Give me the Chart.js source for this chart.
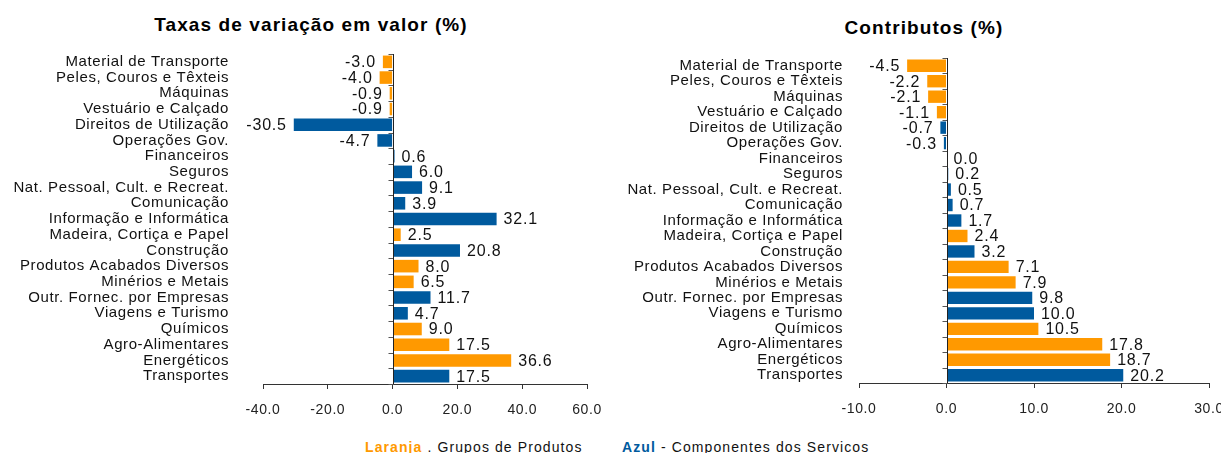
<!DOCTYPE html>
<html>
<head>
<meta charset="utf-8">
<script src="https://cdn.jsdelivr.net/npm/chart.js@4"></script>
<style>
  body { margin: 0; width: 1221px; height: 453px; background: #fff; position: relative; overflow: hidden; font-family: "Liberation Sans", Arial, sans-serif; }
  .box { position: absolute; top: 0; height: 430px; }
  .title { position: absolute; font-weight: bold; font-size: 19px; line-height: 24px; letter-spacing: 1.1px; text-align: center; color: #000; }
  .legend { position: absolute; top: 437px; font-size: 14px; line-height: 20px; letter-spacing: 1.1px; color: #111; white-space: nowrap; }
  .legend b { font-weight: bold; }
</style>
</head>
<body>
<div class="title" style="left:0; width:622px; top:13px;">Taxas de variação em valor (%)</div>
<div class="title" style="left:610px; width:628px; top:16px;">Contributos (%)</div>

<div class="box" style="left:0; width:610px;"><canvas id="taxasChart"></canvas></div>
<div class="box" style="left:610px; width:611px;"><canvas id="contribChart"></canvas></div>

<div class="legend" style="left:365px;"><b style="color:#FF9900">Laranja</b> . Grupos de Produtos</div>
<div class="legend" style="left:622px;"><b style="color:#005A9E">Azul</b> - Componentes dos Servicos</div>

<script>
const categories = [
  "Material de Transporte",
  "Peles, Couros e Têxteis",
  "Máquinas",
  "Vestuário e Calçado",
  "Direitos de Utilização",
  "Operações Gov.",
  "Financeiros",
  "Seguros",
  "Nat. Pessoal, Cult. e Recreat.",
  "Comunicação",
  "Informação e Informática",
  "Madeira, Cortiça e Papel",
  "Construção",
  "Produtos Acabados Diversos",
  "Minérios e Metais",
  "Outr. Fornec. por Empresas",
  "Viagens e Turismo",
  "Químicos",
  "Agro-Alimentares",
  "Energéticos",
  "Transportes"
];

// P = grupo de produtos (laranja), S = componente dos serviços (azul)
const groups = ["P", "P", "P", "P", "S", "S", "S", "S", "S", "S", "S", "P", "S", "P", "P", "S", "S", "P", "P", "P", "S"];

const taxasVariacao = [-3.0, -4.0, -0.9, -0.9, -30.5, -4.7, 0.6, 6.0, 9.1, 3.9, 32.1, 2.5, 20.8, 8.0, 6.5, 11.7, 4.7, 9.0, 17.5, 36.6, 17.5];
const contributos = [-4.5, -2.2, -2.1, -1.1, -0.7, -0.3, 0.0, 0.2, 0.5, 0.7, 1.7, 2.4, 3.2, 7.1, 7.9, 9.8, 10.0, 10.5, 17.8, 18.7, 20.2];

const taxasTicks = [-40, -20, 0, 20, 40, 60];
const contribTicks = [-10, 0, 10, 20, 30];

const ORANGE = "#FF9900";
const BLUE = "#005A9E";
const FONT = "'Liberation Sans', Arial, sans-serif";

const barColors = groups.map(g => g === "P" ? ORANGE : BLUE);

// Excel-like spaced letters
const spacingPlugin = {
  id: "spacing",
  beforeDraw(chart) {
    chart.ctx.letterSpacing = "0.6px";
  }
};

// zero line, small category ticks and value labels
const zeroAndLabels = {
  id: "zeroAndLabels",
  afterDatasetsDraw(chart) {
    const ctx = chart.ctx;
    const x = chart.scales.x;
    const area = chart.chartArea;
    const x0 = Math.round(x.getPixelForValue(0)) + 0.5;

    ctx.save();
    ctx.strokeStyle = "#555";
    ctx.lineWidth = 1;
    const n = chart.data.labels.length;
    const band = (area.bottom - area.top) / n;
    for (let i = 0; i <= n; i++) {
      const yy = Math.round(area.top + i * band) + 0.5;
      ctx.beginPath();
      ctx.moveTo(x0 - 5, yy);
      ctx.lineTo(x0, yy);
      ctx.stroke();
    }
    ctx.strokeStyle = "#222";
    ctx.beginPath();
    ctx.moveTo(x0, area.top);
    ctx.lineTo(x0, area.bottom);
    ctx.stroke();

    ctx.letterSpacing = "0.8px";
    ctx.font = "16px " + FONT;
    ctx.fillStyle = "#111";
    ctx.textBaseline = "middle";
    const meta = chart.getDatasetMeta(0);
    const values = chart.data.datasets[0].data;
    meta.data.forEach((bar, i) => {
      const v = values[i];
      const txt = v.toFixed(1);
      if (v < 0) {
        ctx.textAlign = "right";
        ctx.fillText(txt, bar.x - 7, bar.y + 1);
      } else {
        ctx.textAlign = "left";
        ctx.fillText(txt, bar.x + 7, bar.y + 1);
      }
    });
    ctx.restore();
  }
};

function renderBars(canvasId, values, ticks, box) {
  const canvas = document.getElementById(canvasId);
  const ctx = canvas.getContext("2d");
  const step = ticks[1] - ticks[0];

  return new Chart(ctx, {
    type: "bar",
    data: {
      labels: categories,
      datasets: [{
        data: values,
        backgroundColor: barColors,
        borderWidth: 0,
        barPercentage: 0.8,
        categoryPercentage: 1.0
      }]
    },
    options: {
      indexAxis: "y",
      responsive: true,
      maintainAspectRatio: false,
      animation: false,
      layout: {
        padding: { left: 0, right: box.right, top: box.top, bottom: 0 }
      },
      scales: {
        x: {
          min: ticks[0],
          max: ticks[ticks.length - 1],
          afterBuildTicks: scale => {
            scale.ticks = ticks.map(v => ({ value: v }));
          },
          afterFit: scale => {
            scale.height = box.xHeight;
            scale.paddingLeft = 0;
            scale.paddingRight = 0;
          },
          ticks: {
            stepSize: step,
            color: "#222",
            padding: 13,
            font: { family: FONT, size: 14 },
            callback: v => Number(v).toFixed(1)
          },
          grid: {
            drawOnChartArea: false,
            drawTicks: true,
            tickLength: 5,
            tickColor: "#333"
          },
          border: { display: true, color: "#333", width: 1 }
        },
        y: {
          afterFit: scale => {
            scale.width = box.left;
            scale.paddingTop = 0;
            scale.paddingBottom = 0;
          },
          ticks: {
            autoSkip: false,
            color: "#111",
            padding: box.labelGap,
            font: { family: FONT, size: 15, lineHeight: 1 }
          },
          grid: { display: false, drawTicks: false },
          border: { display: false }
        }
      },
      plugins: {
        legend: { display: false },
        tooltip: { enabled: false },
        title: { display: false }
      }
    },
    plugins: [spacingPlugin, zeroAndLabels]
  });
}

renderBars("taxasChart", taxasVariacao, taxasTicks, { left: 263, right: 23, top: 54, xHeight: 46, labelGap: 34 });
renderBars("contribChart", contributos, contribTicks, { left: 249, right: 12, top: 58, xHeight: 47, labelGap: 16 });
</script>
</body>
</html>
